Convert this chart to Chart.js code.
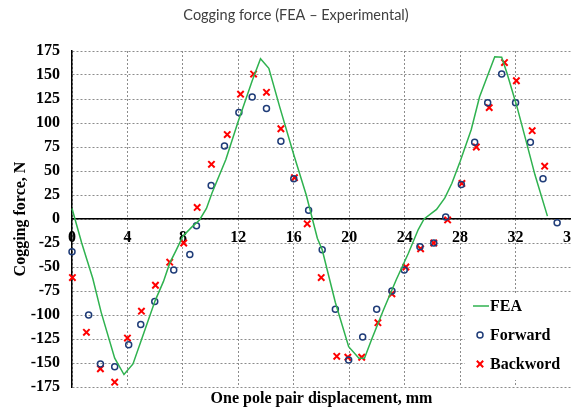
<!DOCTYPE html>
<html>
<head>
<meta charset="utf-8">
<script src="https://cdn.jsdelivr.net/npm/chart.js@4.4.1/dist/chart.umd.min.js"></script>
<style>
  html, body { margin: 0; padding: 0; background: #fff; }
  #wrap { width: 571px; height: 410px; }
</style>
</head>
<body>
<div id="wrap"><canvas id="chart" width="571" height="410"></canvas></div>
<script>
// Cogging force, FEA vs measured (forward / backward run)
const xTicks = [0, 4, 8, 12, 16, 20, 24, 28, 32, 36];

const feaX = [0, 0.7, 1.5, 2.1, 3.08, 3.75, 4.4, 5.2, 6.0, 6.6, 7.05, 7.5, 8.0, 8.6, 9.2, 9.7,
  10.1, 11.1, 12.0, 13.0, 13.6, 14.2, 15.0, 16.0, 16.9, 17.7, 18.05, 19.0, 19.96, 20.7, 21.1,
  21.6, 22.46, 23.4, 24.26, 24.98, 25.4, 26.3, 26.9, 27.4, 28.0, 28.8, 29.4, 30.0, 30.5, 31.0,
  31.4, 32.1, 32.8, 33.4, 34.3];
const feaY = [11, -25, -62, -97, -145, -162, -151, -118, -85, -65, -46, -33, -18, -9, -1, 11,
  27, 62, 102, 144, 167, 157, 116, 67, 25, -20, -32, -87, -133, -145, -145,
  -126, -95, -63, -36, -11, 0, 10, 22, 37, 60, 93, 127, 150, 169, 168.5,
  151, 117, 79, 46, 3];

const fwdX = [0, 1.2, 2.05, 3.08, 4.09, 4.96, 5.97, 7.34, 8.5, 8.98, 10.04, 11.0, 12.04, 13.0,
  14.03, 15.07, 16.0, 17.07, 18.05, 19.0, 19.96, 20.97, 21.98, 23.08, 23.97, 25.1, 26.1, 26.96,
  28.09, 29.05, 29.99, 31.0, 32.0, 33.07, 33.98, 35.0];
const fwdY = [-34, -100, -151, -154, -131, -110, -86, -53, -37, -7, 35, 76, 111, 127,
  115, 81, 42, 9, -32, -94, -147, -123, -94, -75, -53, -29, -25, 2,
  36, 80, 121, 151, 121, 80, 42, -4];

const bwdX = [0.03, 1.04, 2.05, 3.08, 4.0, 5.01, 6.02, 7.05, 8.06, 9.03, 10.06, 11.2, 12.16,
  13.1, 14.03, 15.07, 16.05, 16.97, 17.98, 19.1, 19.9, 20.9, 22.07, 23.08, 24.09, 25.15, 26.1,
  27.1, 28.13, 29.17, 30.1, 31.2, 32.06, 33.2, 34.1];
const bwdY = [-61, -118, -156, -170, -124, -96, -69, -45, -25, 12, 57, 88, 130,
  151, 132, 94, 43, -5, -61, -143, -144, -144, -108, -78, -50, -31, -25,
  -1, 37, 75, 116, 163, 144, 92, 55];

const toPoints = (xs, ys) => xs.map((x, i) => ({ x: x, y: ys[i] }));

const serifBold = { family: '"Liberation Serif", "Times New Roman", serif', size: 16, weight: 'bold' };
const GREEN = '#2fb24f';
const NAVY = '#1f3c78';
const RED = '#ff0000';

// top title, drawn by hand so it can sit off-centre like the original
const titlePlugin = {
    id: 'topTitle',
    afterDraw(chart) {
        const ctx = chart.ctx;
        ctx.save();
        ctx.font = '14.5px Lato, "Open Sans", sans-serif';
        ctx.fillStyle = '#404040';
        ctx.textAlign = 'center';
        ctx.textBaseline = 'middle';
        ctx.fillText('Cogging force (FEA \u2013 Experimental)', 296, 15);
        ctx.restore();
    }
};

// legend box inside the plot, lower right
const legendPlugin = {
    id: 'innerLegend',
    afterDatasetsDraw(chart) {
        const ctx = chart.ctx;
        const area = chart.chartArea;
        const left = area.right - 106;
        const top = area.bottom - 94;
        ctx.save();
        ctx.fillStyle = '#fff';
        ctx.fillRect(left, top, 106, 87);

        const sx = left + 15;
        const tx = left + 25;
        const rows = [top + 13, top + 42, top + 71];
        const ds = chart.data.datasets;

        // FEA line
        ctx.strokeStyle = ds[0].borderColor;
        ctx.lineWidth = 1.5;
        ctx.beginPath();
        ctx.moveTo(sx - 7, rows[0]);
        ctx.lineTo(sx + 9, rows[0]);
        ctx.stroke();

        // Forward circle
        ctx.strokeStyle = ds[1].borderColor;
        ctx.lineWidth = ds[1].borderWidth;
        ctx.beginPath();
        ctx.arc(sx, rows[1], ds[1].pointRadius, 0, Math.PI * 2);
        ctx.stroke();

        // Backword cross
        const r = ds[2].pointRadius * Math.SQRT1_2;
        ctx.strokeStyle = ds[2].borderColor;
        ctx.lineWidth = ds[2].borderWidth;
        ctx.beginPath();
        ctx.moveTo(sx - r, rows[2] - r);
        ctx.lineTo(sx + r, rows[2] + r);
        ctx.moveTo(sx + r, rows[2] - r);
        ctx.lineTo(sx - r, rows[2] + r);
        ctx.stroke();

        ctx.font = 'bold 16px "Liberation Serif", serif';
        ctx.fillStyle = '#000';
        ctx.textAlign = 'left';
        ctx.textBaseline = 'middle';
        ds.forEach((d, i) => ctx.fillText(d.label, tx, rows[i] + 1));
        ctx.restore();
    }
};

new Chart(document.getElementById('chart'), {
    type: 'scatter',
    data: {
        datasets: [
            {
                label: 'FEA',
                data: toPoints(feaX, feaY),
                showLine: true,
                borderColor: GREEN,
                borderWidth: 1.5,
                pointRadius: 0,
                tension: 0,
                clip: false
            },
            {
                label: 'Forward',
                data: toPoints(fwdX, fwdY),
                pointStyle: 'circle',
                pointRadius: 3,
                borderColor: NAVY,
                backgroundColor: 'rgba(255,255,255,0)',
                borderWidth: 1.5,
                clip: false
            },
            {
                label: 'Backword',
                data: toPoints(bwdX, bwdY),
                pointStyle: 'crossRot',
                pointRadius: 4.5,
                borderColor: RED,
                borderWidth: 2,
                clip: false
            }
        ]
    },
    options: {
        responsive: false,
        animation: false,
        layout: { autoPadding: false, padding: { top: 51, left: 0, right: 0, bottom: 0 } },
        plugins: {
            legend: { display: false },
            title: { display: false },
            tooltip: { enabled: false }
        },
        scales: {
            x: {
                type: 'linear',
                position: { y: 0 },
                min: 0,
                max: 36,
                afterBuildTicks: (s) => { s.ticks = xTicks.map(v => ({ value: v })); },
                afterFit: (s) => { s.paddingLeft = 0; s.paddingRight = 0; },
                ticks: { font: serifBold, color: '#000', padding: 9, maxRotation: 0, autoSkip: false },
                grid: { color: '#8c8c8c', lineWidth: 1, drawTicks: false },
                border: { color: '#000', width: 1.5, dash: [2, 2] }
            },
            x2: {
                type: 'linear',
                position: 'bottom',
                min: 0,
                max: 36,
                afterFit: (s) => { s.height = 23; s.paddingLeft = 0; s.paddingRight = 0; },
                ticks: { display: false },
                grid: { display: false, drawTicks: false },
                border: { display: false },
                title: {
                    display: true,
                    text: 'One pole pair displacement, mm',
                    font: serifBold,
                    color: '#000',
                    padding: { top: 0, bottom: 2 }
                }
            },
            y: {
                type: 'linear',
                position: 'left',
                min: -175,
                max: 175,
                afterFit: (s) => { s.width = 72; },
                ticks: { stepSize: 25, font: serifBold, color: '#000', padding: 12 },
                grid: { color: '#8c8c8c', lineWidth: 1, drawTicks: false },
                border: { color: '#000', width: 1.5, dash: [2, 2] },
                title: {
                    display: true,
                    text: 'Cogging force, N',
                    font: serifBold,
                    color: '#000',
                    padding: { top: 11, bottom: 0 }
                }
            }
        }
    },
    plugins: [titlePlugin, legendPlugin]
});
</script>
</body>
</html>
